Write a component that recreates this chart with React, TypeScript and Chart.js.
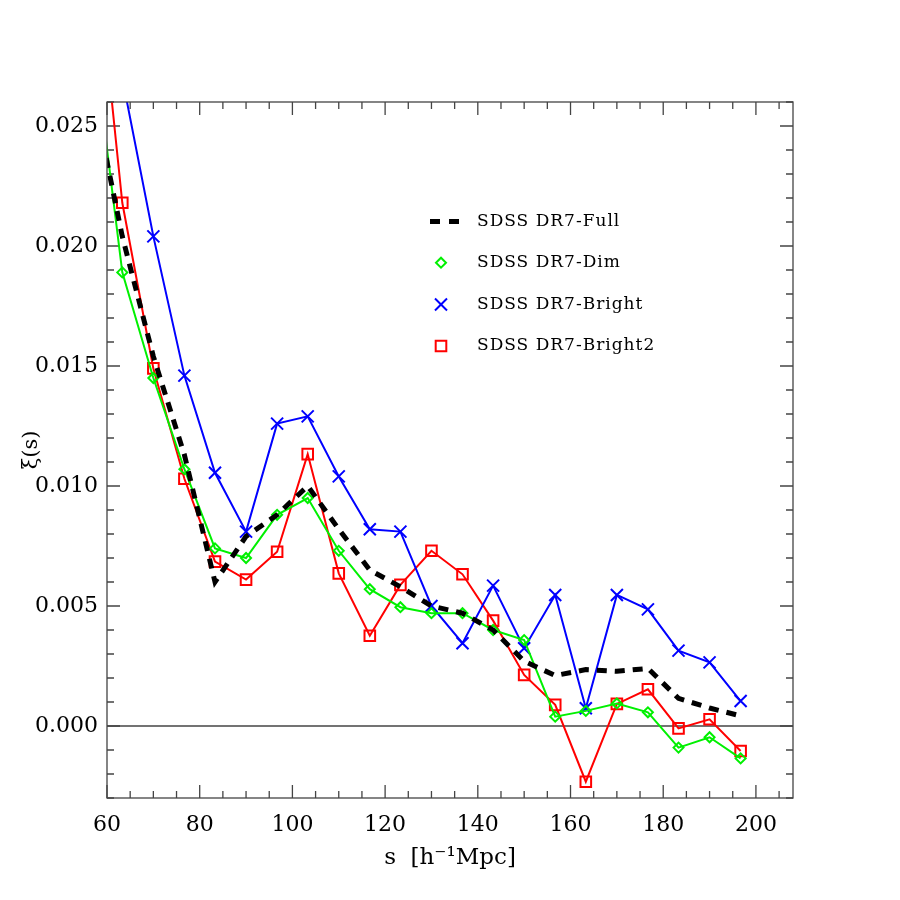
import React, { useEffect, useRef } from 'react';
import { Chart, registerables } from 'chart.js';

Chart.register(...registerables);

// separation s [h^-1 Mpc] (bin centres)
const S_VALUES = [56.7, 63.3, 70.0, 76.7, 83.3, 90.0, 96.7, 103.3, 110.0, 116.7, 123.3, 130.0, 136.7, 143.3, 150.0, 156.7, 163.3, 170.0, 176.7, 183.3, 190.0, 196.7];

// xi(s) per sample
const FULL = [0.0266, 0.0204, 0.0154, 0.0113, 0.0060, 0.0079, 0.0088, 0.0100, 0.0082, 0.0065, 0.0058, 0.0050, 0.0047, 0.0040, 0.0027, 0.0021, 0.00235, 0.00228, 0.0024, 0.00115, 0.00075, 0.00042];
const DIM = [0.0292, 0.0189, 0.0145, 0.0107, 0.0074, 0.0070, 0.0088, 0.0095, 0.0073, 0.0057, 0.00495, 0.0047, 0.0047, 0.0040, 0.00358, 0.00039, 0.00063, 0.00094, 0.00057, -0.0009, -0.00047, -0.00135];
const BRIGHT = [null, 0.0270, 0.0204, 0.0146, 0.01055, 0.0081, 0.0126, 0.0129, 0.0104, 0.0082, 0.0081, 0.0050, 0.00345, 0.00585, 0.00324, 0.00546, 0.00074, 0.00546, 0.00486, 0.00314, 0.00265, 0.00104];
const BRIGHT2 = [0.0342, 0.0218, 0.0149, 0.0103, 0.00685, 0.0061, 0.00726, 0.01133, 0.00636, 0.00376, 0.00588, 0.0073, 0.00632, 0.00439, 0.00213, 0.00088, -0.00232, 0.00092, 0.00153, -0.0001, 0.00028, -0.00104];

const LABELS = ['SDSS DR7-Full', 'SDSS DR7-Dim', 'SDSS DR7-Bright', 'SDSS DR7-Bright2'];

const X_TICKS = [60, 80, 100, 120, 140, 160, 180, 200];
const Y_TICKS = [0, 0.005, 0.01, 0.015, 0.02, 0.025];
const X_MINOR_STEP = 5;
const Y_MINOR_STEP = 0.001;

const X_MIN = 60;
const X_MAX = 208;
const Y_MIN = -0.003;
const Y_MAX = 0.026;

const FONT = "'DejaVu Serif', serif";
const AXIS_COLOR = '#444444';

const toPoints = (ys: (number | null)[]) => S_VALUES.map((s, i) => ({ x: s, y: ys[i] }));

const frameTicksPlugin = {
  id: 'frameTicks',
  beforeDatasetsDraw(chart: any) {
    const { ctx, chartArea, scales } = chart;
    const { left, right, top, bottom } = chartArea;
    const xs = scales.x;
    const ys = scales.y;
    ctx.save();
    ctx.strokeStyle = AXIS_COLOR;
    ctx.lineWidth = 1.3;
    const y0 = ys.getPixelForValue(0);
    ctx.beginPath();
    ctx.moveTo(left, y0);
    ctx.lineTo(right, y0);
    ctx.stroke();

    const MAJ = 13;
    const MIN = 7;
    ctx.beginPath();
    for (let v = X_MIN; v <= X_MAX + 1e-9; v += X_MINOR_STEP) {
      const px = xs.getPixelForValue(v);
      const len = X_TICKS.includes(Math.round(v)) ? MAJ : MIN;
      ctx.moveTo(px, bottom);
      ctx.lineTo(px, bottom - len);
      ctx.moveTo(px, top);
      ctx.lineTo(px, top + len);
    }
    const nMin = Math.ceil(Y_MIN / Y_MINOR_STEP - 1e-9);
    const nMax = Math.floor(Y_MAX / Y_MINOR_STEP + 1e-9);
    for (let n = nMin; n <= nMax; n++) {
      const v = n * Y_MINOR_STEP;
      const py = ys.getPixelForValue(v);
      const len = n % 5 === 0 ? MAJ : MIN;
      ctx.moveTo(left, py);
      ctx.lineTo(left + len, py);
      ctx.moveTo(right, py);
      ctx.lineTo(right - len, py);
    }
    ctx.stroke();
    ctx.restore();
  },
  afterDraw(chart: any) {
    const { ctx, chartArea } = chart;
    const { left, right, top, bottom } = chartArea;
    ctx.save();
    ctx.strokeStyle = AXIS_COLOR;
    ctx.lineWidth = 1.3;
    ctx.strokeRect(left, top, right - left, bottom - top);
    ctx.restore();
  },
};

const legendPlugin = {
  id: 'insideLegend',
  afterDraw(chart: any) {
    const { ctx } = chart;
    const datasets = chart.data.datasets;
    const symX = 441;
    const textX = 477;
    const rows = [221.5, 262.7, 304.5, 346];
    ctx.save();
    datasets.forEach((ds: any, i: number) => {
      const y = rows[i];
      ctx.save();
      if (i === 0) {
        ctx.strokeStyle = ds.borderColor;
        ctx.lineWidth = 5;
        ctx.setLineDash([10, 9]);
        ctx.lineCap = 'butt';
        ctx.beginPath();
        ctx.moveTo(430, y);
        ctx.lineTo(459, y);
        ctx.stroke();
      } else {
        ctx.strokeStyle = ds.borderColor;
        ctx.lineWidth = ds.pointBorderWidth;
        ctx.setLineDash([]);
        ctx.beginPath();
        const r = ds.pointRadius;
        if (ds.pointStyle === 'rectRot') {
          ctx.moveTo(symX - r, y);
          ctx.lineTo(symX, y - r);
          ctx.lineTo(symX + r, y);
          ctx.lineTo(symX, y + r);
          ctx.closePath();
        } else if (ds.pointStyle === 'crossRot') {
          const o = r * Math.SQRT1_2;
          ctx.moveTo(symX - o, y - o);
          ctx.lineTo(symX + o, y + o);
          ctx.moveTo(symX + o, y - o);
          ctx.lineTo(symX - o, y + o);
        } else {
          const h = r * Math.SQRT1_2;
          ctx.rect(symX - h, y - h, 2 * h, 2 * h);
        }
        ctx.stroke();
      }
      ctx.restore();
      ctx.fillStyle = '#000';
      ctx.font = `17px ${FONT}`;
      (ctx as any).letterSpacing = '1px';
      ctx.textBaseline = 'middle';
      ctx.textAlign = 'left';
      ctx.fillText(ds.label, textX, y);
      (ctx as any).letterSpacing = '0px';
    });
    ctx.restore();
  },
};

export default function App() {
  const canvasRef = useRef<HTMLCanvasElement | null>(null);

  useEffect(() => {
    const canvas = canvasRef.current;
    if (!canvas) return;
    const chart = new Chart(canvas, {
      type: 'line',
      data: {
        datasets: [
          {
            label: LABELS[0],
            data: toPoints(FULL),
            borderColor: '#000000',
            backgroundColor: '#000000',
            borderWidth: 5,
            borderDash: [10, 8],
            borderCapStyle: 'butt',
            pointRadius: 0,
            tension: 0,
            clip: 0,
          } as any,
          {
            label: LABELS[1],
            data: toPoints(DIM),
            borderColor: '#00f000',
            backgroundColor: 'rgba(0,0,0,0)',
            borderWidth: 2,
            pointStyle: 'rectRot',
            pointRadius: 5,
            pointBorderWidth: 2,
            pointBackgroundColor: 'rgba(0,0,0,0)',
            pointBorderColor: '#00f000',
            tension: 0,
            clip: 0,
          } as any,
          {
            label: LABELS[2],
            data: toPoints(BRIGHT),
            borderColor: '#0000ff',
            backgroundColor: 'rgba(0,0,0,0)',
            borderWidth: 2,
            pointStyle: 'crossRot',
            pointRadius: 8.5,
            pointBorderWidth: 2,
            pointBorderColor: '#0000ff',
            tension: 0,
            clip: 0,
          } as any,
          {
            label: LABELS[3],
            data: toPoints(BRIGHT2),
            borderColor: '#ff0000',
            backgroundColor: 'rgba(0,0,0,0)',
            borderWidth: 2,
            pointStyle: 'rect',
            pointRadius: 7.5,
            pointBorderWidth: 2,
            pointBackgroundColor: 'rgba(0,0,0,0)',
            pointBorderColor: '#ff0000',
            tension: 0,
            clip: 0,
          } as any,
        ],
      },
      options: {
        animation: false,
        responsive: false,
        maintainAspectRatio: false,
        layout: { padding: { left: 0, top: 102, right: 107, bottom: 0 } },
        plugins: {
          legend: { display: false },
          tooltip: { enabled: false },
        },
        scales: {
          x: {
            type: 'linear',
            min: X_MIN,
            max: X_MAX,
            afterFit: (s: any) => {
              s.height = 102;
            },
            afterBuildTicks: (s: any) => {
              s.ticks = X_TICKS.map((v) => ({ value: v }));
            },
            grid: { display: false, drawTicks: false },
            border: { display: false },
            ticks: {
              color: '#000',
              font: { family: FONT, size: 22 },
              padding: 14,
              maxRotation: 0,
              autoSkip: false,
              callback: (v: any) => String(v),
            },
            title: {
              display: true,
              text: 's  [h⁻¹Mpc]',
              color: '#000',
              font: { family: FONT, size: 23 },
              padding: { top: 0, bottom: 28 },
            },
          },
          y: {
            type: 'linear',
            min: Y_MIN,
            max: Y_MAX,
            afterFit: (s: any) => {
              s.width = 107;
            },
            afterBuildTicks: (s: any) => {
              s.ticks = Y_TICKS.map((v) => ({ value: v }));
            },
            grid: { display: false, drawTicks: false },
            border: { display: false },
            ticks: {
              color: '#000',
              font: { family: FONT, size: 22 },
              padding: 9,
              autoSkip: false,
              callback: (v: any) => Number(v).toFixed(3),
            },
            title: {
              display: true,
              text: 'ξ(s)',
              color: '#000',
              font: { family: FONT, size: 21 },
              padding: { top: 19, bottom: 0 },
            },
          },
        },
      } as any,
      plugins: [frameTicksPlugin, legendPlugin],
    });
    return () => {
      chart.destroy();
    };
  }, []);

  return (
    <div style={{ position: 'fixed', left: 0, top: 0, width: 900, height: 900, background: '#fff' }}>
      <canvas ref={canvasRef} width={900} height={900} style={{ width: 900, height: 900, display: 'block' }} />
    </div>
  );
}
